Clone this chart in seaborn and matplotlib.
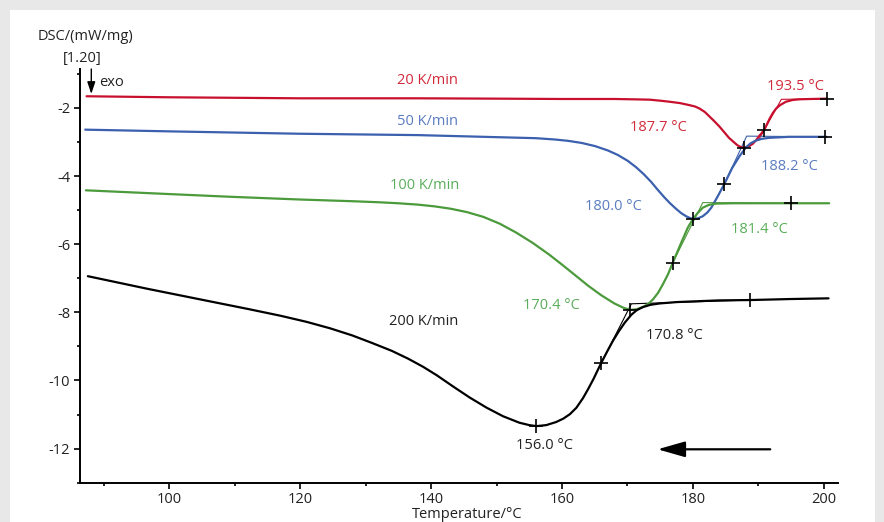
import numpy as np
import pandas as pd
import matplotlib
matplotlib.use("Agg")
import matplotlib.pyplot as plt
from matplotlib.patches import Rectangle
from matplotlib.ticker import MultipleLocator
import seaborn as sns

# DSC cooling curves, temperature in degC and heat flow in mW/mg
rate_labels = ["20 K/min", "50 K/min", "100 K/min", "200 K/min"]

t_20 = [87.4, 100, 120, 138, 150, 160, 168, 171, 173.4, 175, 176.4, 178, 179.45, 180.3, 181.0,
        181.8, 182.5, 183.3, 184.0, 184.8, 185.5, 186.2, 186.8, 187.3, 187.8, 188.5, 189.1,
        189.6, 190.1, 190.5, 190.9, 191.3, 191.7, 192.2, 192.7, 193.3, 194.2, 195.2, 196.2,
        198, 200.5]
dsc_20 = [-1.66, -1.69, -1.72, -1.72, -1.73, -1.74, -1.74, -1.75, -1.76, -1.79, -1.82, -1.86,
          -1.92, -1.96, -2.02, -2.12, -2.25, -2.40, -2.54, -2.72, -2.88, -3.00, -3.10, -3.15,
          -3.17, -3.13, -3.06, -2.96, -2.83, -2.74, -2.64, -2.48, -2.32, -2.15, -2.02, -1.92,
          -1.82, -1.77, -1.75, -1.74, -1.73]

t_50 = [87.2, 100, 120, 138, 150, 156, 159, 161, 163, 165, 167, 168.5, 170, 171.3, 172.5, 173.6,
        174.6, 175.6, 176.5, 177.4, 178.2, 178.95, 179.5, 180.0, 180.8, 181.5, 182.2, 182.8,
        183.8, 184.8, 186, 187.1, 188.1, 188.8, 189.6, 190.5, 191.6, 194.7, 200.4]
dsc_50 = [-2.64, -2.69, -2.76, -2.80, -2.86, -2.89, -2.93, -2.97, -3.03, -3.12, -3.25, -3.38,
          -3.55, -3.74, -3.95, -4.17, -4.40, -4.62, -4.80, -4.96, -5.09, -5.18, -5.23, -5.26,
          -5.24, -5.18, -5.07, -4.93, -4.59, -4.23, -3.76, -3.42, -3.16, -3.04, -2.96, -2.91,
          -2.88, -2.85, -2.85]

t_100 = [87.3, 100, 109.4, 120, 128, 132, 135, 138, 140.5, 143, 145.5, 148, 150.5, 153, 155.5,
         158, 160, 162, 164, 166, 168, 169.3, 170.4, 171.4, 172.3, 173.2, 173.9, 174.7, 175.4,
         176.2, 176.9, 178.2, 179.2, 180.0, 180.7, 181.5, 182.4, 183.5, 186, 200.8]
dsc_100 = [-4.42, -4.53, -4.61, -4.69, -4.74, -4.77, -4.80, -4.84, -4.89, -4.96, -5.06, -5.20,
           -5.40, -5.66, -5.96, -6.30, -6.60, -6.91, -7.22, -7.50, -7.74, -7.86, -7.93, -7.91,
           -7.85, -7.75, -7.62, -7.42, -7.18, -6.88, -6.55, -5.96, -5.52, -5.26, -5.09, -4.93,
           -4.85, -4.81, -4.80, -4.80]

t_200 = [87.6, 96.7, 106.8, 112, 117, 121, 124.6, 128, 131, 134, 136.5, 138.8, 140.9, 143.4,
         145.9, 148.5, 151, 153.5, 155, 156.1, 157.6, 159.1, 160.2, 161.2, 162.2, 163.2, 164.0,
         164.8, 165.4, 166.0, 166.9, 167.8, 168.7, 169.6, 170.6, 171.4, 172.3, 173.5, 174.9,
         177.5, 180.0, 184.0, 188.7, 195, 200.7]
dsc_200 = [-6.94, -7.31, -7.70, -7.90, -8.10, -8.28, -8.47, -8.68, -8.90, -9.13, -9.36, -9.60,
           -9.85, -10.18, -10.50, -10.80, -11.05, -11.24, -11.31, -11.34, -11.31, -11.22,
           -11.12, -10.99, -10.80, -10.52, -10.25, -9.96, -9.72, -9.48, -9.15, -8.83, -8.55,
           -8.30, -8.07, -7.94, -7.85, -7.78, -7.74, -7.70, -7.68, -7.65, -7.64, -7.61, -7.59]

# Evaluation points: peak, inflection and end-baseline point of each curve
mark_t = [187.8, 190.9, 200.4, 180.0, 184.8, 200.1, 170.4, 176.9, 195.0, 156.1, 166.0, 188.7]
mark_dsc = [-3.17, -2.64, -1.73, -5.26, -4.23, -2.85, -7.93, -6.55, -4.80, -11.34, -9.48, -7.64]

# Inflection tangent -> extrapolated end -> baseline, one polyline per curve
tan_t = [[190.0, 193.5, 200.4], [184.8, 188.2, 200.1], [176.9, 181.5, 195.0], [166.0, 170.6, 188.7]]
tan_dsc = [[-2.95, -1.75, -1.73], [-4.23, -2.83, -2.85], [-6.55, -4.78, -4.80], [-9.48, -7.75, -7.64]]

# Evaluated temperatures written next to the curves
peak_texts = ["193.5 °C", "187.7 °C", "188.2 °C", "180.0 °C",
              "181.4 °C", "170.4 °C", "170.8 °C", "156.0 °C"]
peak_text_t = [195.6, 174.7, 194.7, 167.8, 190.1, 158.4, 177.2, 157.3]
peak_text_dsc = [-1.37, -2.59, -3.71, -4.89, -5.57, -7.80, -8.68, -11.92]
peak_text_curve = [0, 0, 1, 1, 2, 2, 3, 3]

rate_text_t = [139.5, 139.5, 139.1, 138.9]
rate_text_dsc = [-1.20, -2.40, -4.28, -8.26]

x_ticks = [100, 120, 140, 160, 180, 200]
y_ticks = [-2, -4, -6, -8, -10, -12]

line_colors = ["#c8102e", "#3b60ae", "#4b9a3b", "#000000"]
text_colors = ["#d22a3c", "#5b7cc1", "#5aad5a", "#222222"]

sns.set_theme(style="white")
plt.rcParams["font.family"] = ["Open Sans", "DejaVu Sans"]
plt.rcParams["axes.unicode_minus"] = False

fig = plt.figure(figsize=(8.84, 5.22), dpi=100, facecolor="#e8e8e8")
fig.patches.append(Rectangle((10 / 884, 0), 865 / 884, 512 / 522, transform=fig.transFigure,
                             facecolor="white", edgecolor="none", zorder=-10))
ax = fig.add_axes([80 / 884, 39.3 / 522, 757.7 / 884, 413.7 / 522])
ax.set_zorder(1)
ax.set_facecolor("none")

curves = [(t_20, dsc_20), (t_50, dsc_50), (t_100, dsc_100), (t_200, dsc_200)]
frames = []
for label, (t, d) in zip(rate_labels, curves):
    frames.append(pd.DataFrame({"T": t, "DSC": d, "rate": label}))
df = pd.concat(frames, ignore_index=True)

sns.lineplot(data=df, x="T", y="DSC", hue="rate", palette=line_colors, sort=False,
             estimator=None, linewidth=1.6, legend=False, ax=ax, zorder=3)
for line in ax.get_lines():
    line.set_solid_joinstyle("round")

for i in range(4):
    ax.plot(tan_t[i], tan_dsc[i], color=line_colors[i], linewidth=0.8, zorder=2)

sns.scatterplot(x=mark_t, y=mark_dsc, marker="+", color="black", s=90, linewidth=1.2,
                ax=ax, zorder=5)

fs = 10.5
for i, lab in enumerate(rate_labels):
    ax.text(rate_text_t[i], rate_text_dsc[i], lab, color=text_colors[i], fontsize=fs,
            ha="center", va="center")
for s, tx, ty, c in zip(peak_texts, peak_text_t, peak_text_dsc, peak_text_curve):
    ax.text(tx, ty, s, color=text_colors[c], fontsize=fs, ha="center", va="center")

# cooling direction
ax.annotate("", xy=(174.6, -12.02), xytext=(191.8, -12.02),
            arrowprops=dict(arrowstyle="-|>,head_length=1.4,head_width=0.4",
                            color="black", linewidth=1.6, shrinkA=0, shrinkB=0))

ax.set_xlim(86.4, 202.1)
ax.set_ylim(-13.0, -0.86)
ax.set_xticks(x_ticks)
ax.set_yticks(y_ticks)
ax.xaxis.set_minor_locator(MultipleLocator(10))
ax.yaxis.set_minor_locator(MultipleLocator(1))
ax.tick_params(which="major", direction="out", length=4, width=1.2, colors="black",
               labelcolor="#222222", labelsize=fs, bottom=True, left=True, pad=3)
ax.tick_params(which="minor", direction="out", length=2, width=1.2, colors="black",
               bottom=True, left=True)
ax.set_xlabel("")
ax.set_ylabel("")
for side in ["top", "right"]:
    ax.spines[side].set_visible(False)
for side in ["left", "bottom"]:
    ax.spines[side].set_color("black")
    ax.spines[side].set_linewidth(1.4)

fig.text(85.5 / 884, 1 - 36.7 / 522, "DSC/(mW/mg)", fontsize=fs, color="#222222",
         ha="center", va="center")
fig.text(82 / 884, 1 - 58.3 / 522, "[1.20]", fontsize=fs, color="#222222",
         ha="center", va="center")
fig.text(467 / 884, 1 - 514 / 522, "Temperature/°C", fontsize=fs, color="#222222",
         ha="center", va="center")
fig.text(99 / 884, 1 - 83 / 522, "exo", fontsize=fs, color="#222222", ha="left", va="center")
ax.annotate("", xy=(91.3 / 884, 1 - 94 / 522), xytext=(91.3 / 884, 1 - 69 / 522),
            xycoords="figure fraction", textcoords="figure fraction",
            arrowprops=dict(arrowstyle="-|>,head_length=0.6,head_width=0.2",
                            color="black", linewidth=1.0, shrinkA=0, shrinkB=0))

fig.savefig("out.png", dpi=100, facecolor=fig.get_facecolor())
